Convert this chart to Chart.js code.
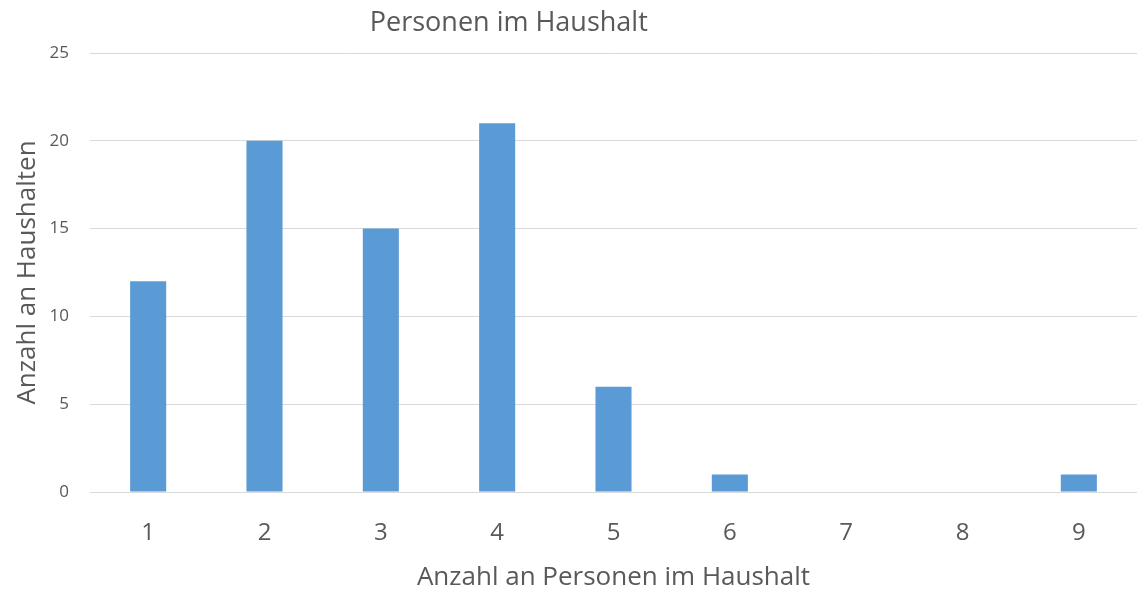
<!doctype html>
<html>
<head>
<meta charset="utf-8" />
<title>Personen im Haushalt</title>
<script src="https://cdn.jsdelivr.net/npm/chart.js"></script>
<style>
  html, body { margin:0; padding:0; background:#fff; }
  #wrap { width:1137px; height:593px; }
</style>
</head>
<body>
<div id="wrap"><canvas id="c"></canvas></div>
<script>
// Daten
const personen = ["1", "2", "3", "4", "5", "6", "7", "8", "9"];
const haushalte = [12, 20, 15, 21, 6, 1, 0, 0, 1];
const yTicks = [0, 5, 10, 15, 20, 25];

const textColor = "#595959";
const fontFamily = "'Open Sans', 'Noto Sans', sans-serif";

// Titel leicht links der Mitte, wie im Original
const titlePlugin = {
  id: "titel",
  afterDraw(chart) {
    const { ctx, chartArea } = chart;
    ctx.save();
    ctx.font = "27px " + fontFamily;
    ctx.fillStyle = textColor;
    ctx.textAlign = "center";
    ctx.textBaseline = "middle";
    ctx.fillText("Personen im Haushalt", chartArea.left + chartArea.width * 0.4, 23);
    ctx.restore();
  }
};

new Chart(document.getElementById("c"), {
  type: "bar",
  data: {
    labels: personen,
    datasets: [{
      data: haushalte,
      backgroundColor: "#5b9bd5",
      borderWidth: 0,
      categoryPercentage: 1,
      barPercentage: 0.31
    }]
  },
  options: {
    responsive: true,
    maintainAspectRatio: false,
    animation: false,
    layout: { padding: { top: 53, right: 0, left: 0, bottom: 0 } },
    plugins: { legend: { display: false }, tooltip: { enabled: false } },
    scales: {
      x: {
        grid: { display: false, drawTicks: false },
        border: { color: "#d9d9d9", width: 1 },
        ticks: { color: textColor, font: { family: fontFamily, size: 24 }, padding: 27 },
        title: { display: true, text: "Anzahl an Personen im Haushalt", color: textColor,
                 font: { family: fontFamily, size: 26 }, padding: { top: 4, bottom: 0 } },
        afterFit(scale) { scale.height = 101; }
      },
      y: {
        min: 0, max: 25,
        afterBuildTicks(scale) { scale.ticks = yTicks.map(v => ({ value: v })); },
        grid: { color: "#d9d9d9", drawTicks: false },
        border: { display: false },
        ticks: { color: textColor, font: { family: fontFamily, size: 17 }, padding: 21 },
        title: { display: true, text: "Anzahl an Haushalten", color: textColor,
                 font: { family: fontFamily, size: 26 }, padding: { top: 12, bottom: 0 } },
        afterFit(scale) { scale.width = 90; }
      }
    }
  },
  plugins: [titlePlugin]
});
</script>
</body>
</html>
